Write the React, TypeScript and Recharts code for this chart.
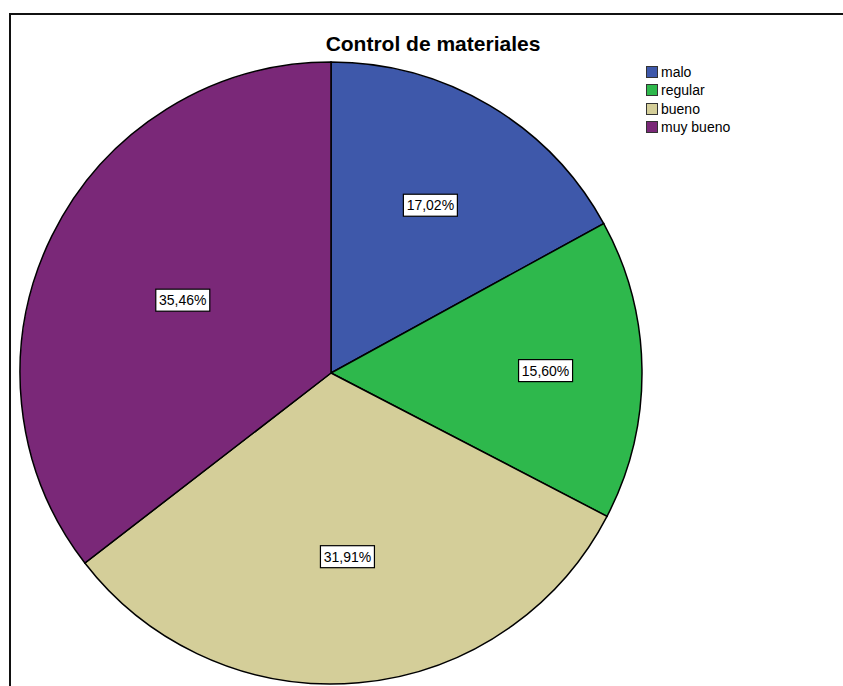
import React from 'react';
import { PieChart, Pie, Cell, Legend } from 'recharts';

const categories = ['malo', 'regular', 'bueno', 'muy bueno'];
const percentages = [17.02, 15.6, 31.91, 35.46];
const colors = ['#3E58AA', '#2EB84C', '#D4CE99', '#7A2878'];

const data = categories.map((name, i) => ({ name, value: percentages[i] }));

const LABEL_R = [0.627, 0.69, 0.593, 0.531];
const RAD = Math.PI / 180;
const FONT = '"Liberation Sans", Arial, sans-serif';

const renderLabel = (props: any) => {
  const { cx, cy, midAngle, outerRadius, index, value } = props;
  const r = outerRadius * LABEL_R[index];
  const x = cx + r * Math.cos(-midAngle * RAD);
  const y = cy + r * Math.sin(-midAngle * RAD);
  const txt = Number(value).toFixed(2).replace('.', ',') + '%';
  return (
    <g>
      <rect x={x - 27} y={y - 11} width={54} height={22} fill="#fff" stroke="#000" strokeWidth={1.2} />
      <text x={x} y={y + 5} textAnchor="middle" fontFamily={FONT} fontSize={14} fill="#000">
        {txt}
      </text>
    </g>
  );
};

const renderLegend = () => (
  <div style={{ fontFamily: FONT, fontSize: 14, color: '#000' }}>
    {categories.map((c, i) => (
      <div key={c} style={{ display: 'flex', alignItems: 'center', height: 18.3 }}>
        <div
          style={{
            width: 12,
            height: 12,
            background: colors[i],
            border: '1px solid #333',
            marginRight: 3,
            boxSizing: 'border-box',
          }}
        />
        <span>{c}</span>
      </div>
    ))}
  </div>
);

export default function App() {
  return (
    <div style={{ position: 'absolute', left: 0, top: 0, width: 843, height: 686, background: '#fff', overflow: 'hidden' }}>
      <div
        style={{
          position: 'absolute',
          left: 9,
          top: 13,
          width: 900,
          height: 800,
          border: '2px solid #111',
          boxSizing: 'border-box',
        }}
      />
      <div
        style={{
          position: 'absolute',
          left: 0,
          top: 32,
          width: 866,
          textAlign: 'center',
          fontFamily: FONT,
          fontWeight: 'bold',
          fontSize: 21,
          color: '#000',
        }}
      >
        Control de materiales
      </div>
      <div style={{ position: 'absolute', left: 0, top: 0 }}>
        <PieChart width={843} height={686} margin={{ top: 0, right: 0, bottom: 0, left: 0 }}>
          <Pie
            data={data}
            dataKey="value"
            nameKey="name"
            cx={331}
            cy={373}
            outerRadius={311}
            startAngle={90}
            endAngle={-270}
            stroke="#000"
            strokeWidth={1.5}
            label={renderLabel}
            labelLine={false}
            isAnimationActive={false}
          >
            {data.map((d, i) => (
              <Cell key={d.name} fill={colors[i]} />
            ))}
          </Pie>
          <Legend
            content={renderLegend}
            layout="vertical"
            verticalAlign="top"
            align="right"
            wrapperStyle={{ position: 'absolute', left: 646, top: 63, width: 120 }}
          />
        </PieChart>
      </div>
    </div>
  );
}
